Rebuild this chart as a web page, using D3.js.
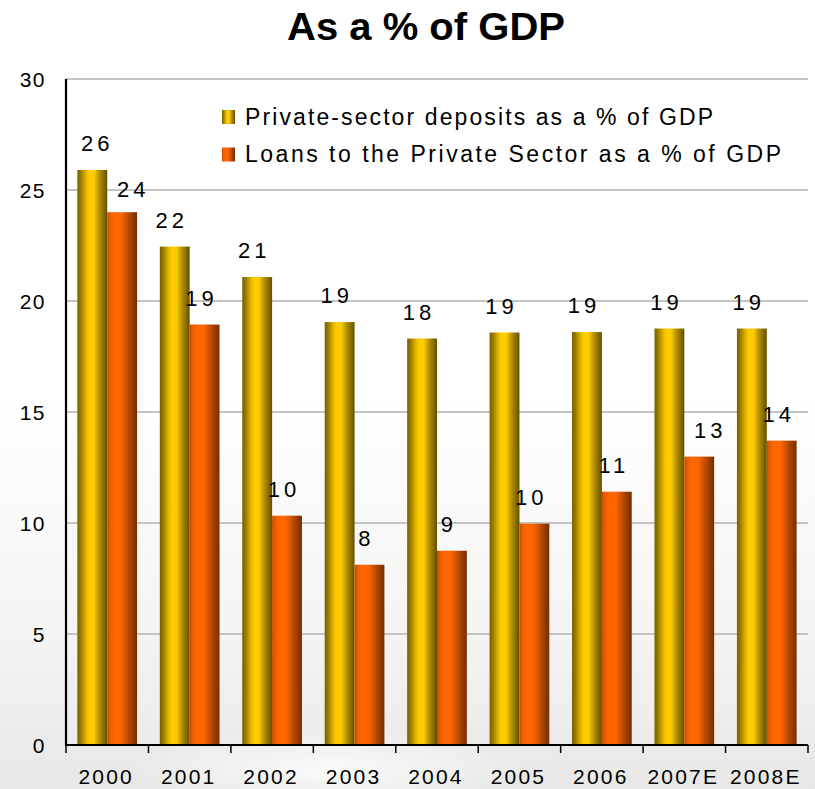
<!DOCTYPE html>
<html>
<head>
<meta charset="utf-8">
<script src="https://cdn.jsdelivr.net/npm/d3@7"></script>
<style>
  html, body { margin: 0; padding: 0; background: #fff; }
  svg { display: block; }
  text { font-family: "Liberation Sans", Arial, sans-serif; fill: #000; }
</style>
</head>
<body>
<svg id="chart" width="815" height="789"></svg>
<script>
// Data
const years = ["2000", "2001", "2002", "2003", "2004", "2005", "2006", "2007E", "2008E"];
const deposits = [25.9, 22.45, 21.08, 19.05, 18.31, 18.58, 18.6, 18.76, 18.76];
const loans = [24.0, 18.94, 10.33, 8.12, 8.75, 9.97, 11.41, 12.99, 13.71];
const seriesNames = ["Private-sector deposits as a % of GDP", "Loans to the Private Sector as a % of GDP"];
const yTicks = [0, 5, 10, 15, 20, 25, 30];

const W = 815, H = 789;
const plot = { left: 66, right: 808, top: 79, bottom: 745 };

const svg = d3.select("#chart");
const defs = svg.append("defs");

// Page background: white fading into a soft grey towards the bottom
const bg = defs.append("linearGradient").attr("id", "bg").attr("x1", 0).attr("y1", 0).attr("x2", 0).attr("y2", 1);
bg.append("stop").attr("offset", "0%").attr("stop-color", "#ffffff");
bg.append("stop").attr("offset", "50%").attr("stop-color", "#ffffff");
bg.append("stop").attr("offset", "80%").attr("stop-color", "#f4f4f3");
bg.append("stop").attr("offset", "100%").attr("stop-color", "#e7e7e5");
svg.append("rect").attr("width", W).attr("height", H).attr("fill", "url(#bg)");
const glow = defs.append("radialGradient").attr("id", "glow").attr("cx", 0.5).attr("cy", 0.5).attr("r", 0.5);
glow.append("stop").attr("offset", "0%").attr("stop-color", "#ffffff").attr("stop-opacity", 0.8);
glow.append("stop").attr("offset", "100%").attr("stop-color", "#ffffff").attr("stop-opacity", 0);
svg.append("ellipse").attr("cx", 330).attr("cy", 770).attr("rx", 200).attr("ry", 40).attr("fill", "url(#glow)");

// Cylinder-style fills for the two series
function cylinder(id, stops) {
  const g = defs.append("linearGradient").attr("id", id).attr("x1", 0).attr("y1", 0).attr("x2", 1).attr("y2", 0);
  stops.forEach(([o, c]) => g.append("stop").attr("offset", o).attr("stop-color", c));
}
cylinder("gold", [[0, "#765e00"], [0.12, "#9c7d00"], [0.3, "#e6b800"], [0.4, "#ffcc00"], [0.55, "#ffcc00"], [0.75, "#b08c00"], [0.9, "#836800"], [1, "#625000"]]);
cylinder("orange", [[0, "#c24e00"], [0.12, "#f06000"], [0.25, "#ff6600"], [0.45, "#ff6600"], [0.65, "#cc5200"], [0.85, "#963c00"], [1, "#772e00"]]);
const fills = ["url(#gold)", "url(#orange)"];

// Scales
const x0 = d3.scaleBand().domain(years).range([plot.left, plot.right]).paddingInner(0.276).paddingOuter(0.138);
const x1 = d3.scaleBand().domain([0, 1]).range([0, x0.bandwidth()]);
const y = d3.scaleLinear().domain([0, 30]).range([plot.bottom, plot.top]);

// Horizontal gridlines
svg.append("g").selectAll("line").data(yTicks.filter(t => t > 0)).join("line")
  .attr("x1", plot.left).attr("x2", plot.right)
  .attr("y1", d => y(d)).attr("y2", d => y(d))
  .attr("stroke", "#c4c4c4").attr("stroke-width", 2);

// Y tick labels
svg.append("g").selectAll("text").data(yTicks).join("text")
  .attr("x", 46).attr("y", d => y(d) + 7.5)
  .attr("text-anchor", "end")
  .attr("font-size", 21).attr("letter-spacing", 1.5)
  .text(d => d);

// Bars
const rows = years.map((yr, i) => ({ year: yr, values: [deposits[i], loans[i]] }));
const groups = svg.append("g").selectAll("g").data(rows).join("g")
  .attr("transform", d => `translate(${x0(d.year)},0)`);
groups.selectAll("rect").data(d => d.values.map((v, s) => ({ v, s, year: d.year }))).join("rect")
  .attr("x", d => x1(d.s))
  .attr("width", x1.bandwidth())
  .attr("y", d => y(d.v))
  .attr("height", d => y(0) - y(d.v))
  .attr("fill", d => fills[d.s]);

// Value labels above each bar (a few sit shifted to stay clear of neighbours)
const nudge = { "2000-0": [8, 0], "2000-1": [14, 4], "2007E-1": [14, 0] };
const fmt = d3.format(".0f");
groups.selectAll("text").data(d => d.values.map((v, s) => ({ v, s, year: d.year }))).join("text")
  .attr("x", d => x1(d.s) + x1.bandwidth() / 2 - 3 + (nudge[d.year + "-" + d.s] || [0, 0])[0])
  .attr("y", d => y(d.v) - 19 + (nudge[d.year + "-" + d.s] || [0, 0])[1])
  .attr("text-anchor", "middle")
  .attr("font-size", 22).attr("letter-spacing", 4)
  .text(d => fmt(d.v));

// Axes lines
svg.append("line").attr("x1", plot.left).attr("x2", plot.left).attr("y1", plot.top).attr("y2", plot.bottom)
  .attr("stroke", "#000").attr("stroke-width", 2.2);
svg.append("line").attr("x1", plot.left - 1).attr("x2", plot.right).attr("y1", plot.bottom).attr("y2", plot.bottom)
  .attr("stroke", "#000").attr("stroke-width", 2);

// X category boundary ticks
const bounds = years.map(d => x0(d) - x0.step() * x0.paddingOuter()).concat([plot.right]);
svg.append("g").selectAll("line").data(bounds).join("line")
  .attr("x1", d => d).attr("x2", d => d)
  .attr("y1", plot.bottom).attr("y2", plot.bottom + 8)
  .attr("stroke", "#000").attr("stroke-width", 1.5);

// X category labels
svg.append("g").selectAll("text").data(years).join("text")
  .attr("x", d => x0(d) + x0.bandwidth() / 2 - 1)
  .attr("y", 784)
  .attr("text-anchor", "middle")
  .attr("font-size", 21).attr("letter-spacing", 2.2)
  .text(d => d);

// Title
svg.append("text")
  .attr("x", 426).attr("y", 40)
  .attr("text-anchor", "middle")
  .attr("font-size", 38).attr("font-weight", "bold")
  .attr("textLength", 278).attr("lengthAdjust", "spacingAndGlyphs")
  .text("As a % of GDP");

// Legend
const legendRows = [
  { name: seriesNames[0], fill: fills[0], width: 468 },
  { name: seriesNames[1], fill: fills[1], width: 536 }
];
const legend = svg.append("g").selectAll("g").data(legendRows).join("g")
  .attr("transform", (d, i) => `translate(222,${110 + i * 37.5})`);
legend.append("rect").attr("width", 13).attr("height", 14).attr("fill", d => d.fill);
legend.append("text")
  .attr("x", 23).attr("y", 14.5)
  .attr("font-size", 23)
  .attr("textLength", d => d.width).attr("lengthAdjust", "spacing")
  .text(d => d.name);
</script>
</body>
</html>
